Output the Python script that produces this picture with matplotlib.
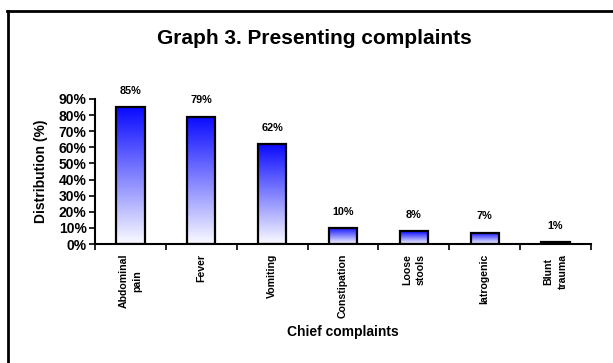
import numpy as np
import matplotlib
matplotlib.use("Agg")
import matplotlib.pyplot as plt
from matplotlib.colors import LinearSegmentedColormap
from matplotlib.ticker import FixedLocator, PercentFormatter

plt.rcParams['font.family'] = ['Liberation Sans', 'DejaVu Sans']

categories = ["Abdominal\npain", "Fever", "Vomiting", "Constipation",
              "Loose\nstools", "Iatrogenic", "Blunt\ntrauma"]
values = [85, 79, 62, 10, 8, 7, 1]
y_ticks = [0, 10, 20, 30, 40, 50, 60, 70, 80, 90]

fig = plt.figure(figsize=(6.13, 3.63), dpi=100)
ax = fig.add_axes([95 / 613, 1 - 244 / 363, (591 - 95) / 613, (244 - 99) / 363])

cmap = LinearSegmentedColormap.from_list("bluefade", ["#fbfbff", "#0a0aff"])
grad = np.linspace(0, 1, 256).reshape(-1, 1)
x = np.arange(len(categories))
width = 0.4

bars = ax.bar(x, values, width=width, facecolor="none", edgecolor="black",
              linewidth=1.6, zorder=3)
for bar, v in zip(bars, values):
    x0 = bar.get_x()
    ax.imshow(grad, extent=[x0, x0 + width, 0, v], origin="lower",
              cmap=cmap, aspect="auto", zorder=2)
    ax.text(bar.get_x() + width / 2, v + 7.0, f"{v}%", ha="center",
            va="bottom", fontsize=7.8, fontweight="bold")

ax.set_xlim(-0.5, len(categories) - 0.5)
ax.set_ylim(0, 90)
ax.set_yticks(y_ticks)
ax.yaxis.set_major_formatter(PercentFormatter(decimals=0))
ax.set_xticks(x)
ax.set_xticklabels(categories, rotation=90, fontsize=7.6, fontweight="bold",
                   va="top", ha="center", linespacing=1.5)
ax.xaxis.set_minor_locator(FixedLocator(np.arange(-0.5, len(categories), 1)))
ax.tick_params(axis="x", which="major", length=0, pad=7)
ax.tick_params(axis="x", which="minor", length=4, width=1.2, direction="out")
ax.tick_params(axis="y", length=4, width=1.2, direction="out", pad=2,
               labelsize=10)
for lab in ax.get_yticklabels():
    lab.set_fontweight("bold")

for side in ("top", "right"):
    ax.spines[side].set_visible(False)
for side in ("left", "bottom"):
    ax.spines[side].set_linewidth(1.5)

ax.set_ylabel("Distribution (%)", fontsize=10, fontweight="bold", labelpad=8)
fig.text(343 / 613, 1 - 332 / 363, "Chief complaints", ha="center", va="center",
         fontsize=10, fontweight="bold")
fig.text(314 / 613, 1 - 38 / 363, "Graph 3. Presenting complaints", ha="center",
         va="center", fontsize=15, fontweight="bold")

# frame around the chart area (left and top edges visible)
fig.add_artist(plt.Line2D([8 / 613, 8 / 613], [0, 1 - 11 / 363],
                          color="black", linewidth=2, transform=fig.transFigure))
fig.add_artist(plt.Line2D([7 / 613, 1], [1 - 11 / 363, 1 - 11 / 363],
                          color="black", linewidth=2, transform=fig.transFigure))

fig.savefig("out.png", dpi=100)
